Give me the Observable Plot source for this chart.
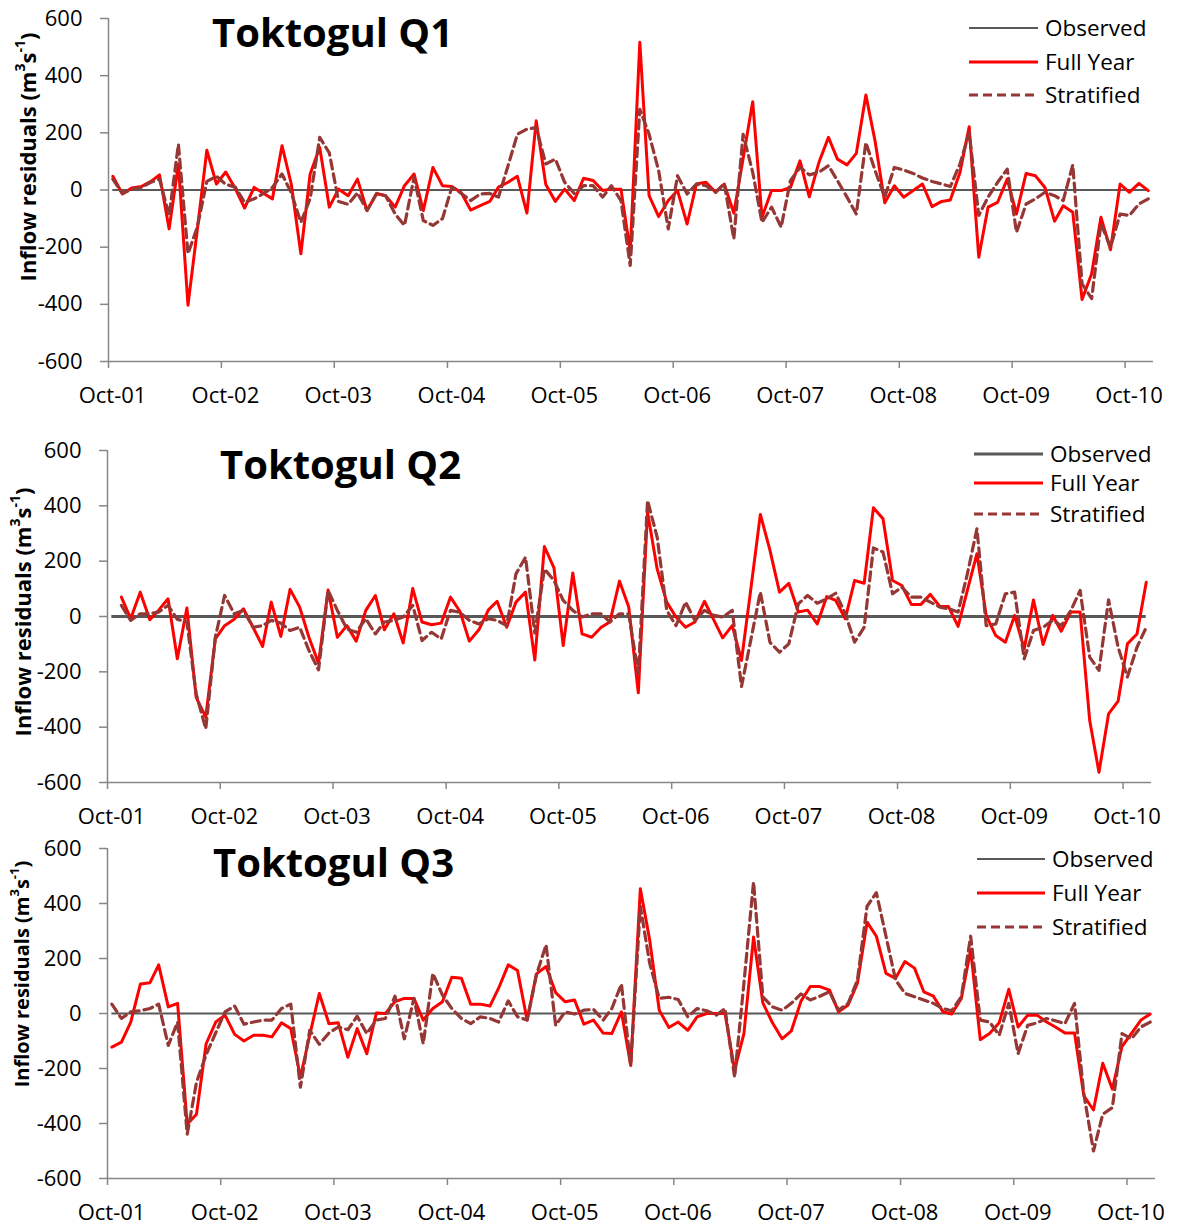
<!DOCTYPE html>
<html>
<head>
<meta charset="utf-8">
<script src="https://cdn.jsdelivr.net/npm/d3@7"></script>
<script src="https://cdn.jsdelivr.net/npm/@observablehq/plot@0.6"></script>
<style>
  body { margin: 0; background: #fff; font-family: "Open Sans", sans-serif; }
  .panel { position: relative; width: 1179px; }
  .panel svg { display: block; }
</style>
</head>
<body>
<div id="chart"></div>
<script>
// Monthly inflow residuals (m3/s), Toktogul reservoir, water years 2001/02 to 2010.
// Month index 0 = Oct 2001.
const yTicks = [-600, -400, -200, 0, 200, 400, 600];
const tickYears = [2001, 2002, 2003, 2004, 2005, 2006, 2007, 2008, 2009, 2010];
const seriesNames = ["Observed", "Full Year", "Stratified"];

// Q1: Oct 2001 - Dec 2010
const q1Start = 0;
const q1Full = [48, -14, 7, 12, 30, 53, -136, 90, -403, -140, 139, 21, 63, 5, -63, 9, -12, -31, 155, 21,
  -223, 56, 149, -60, 3, -20, 38, -72, -12, -20, -60, 15, 56, -72, 79, 15, 12, -10, -70, -55,
  -40, 10, 27, 48, -81, 242, 19, -40, 3, -37, 41, 33, -2, 3, 3, -215, 517, -20, -93, -37,
  -2, -119, 21, 27, -8, 21, -81, 110, 309, -95, -2, -2, 9, 102, -24, 96, 184, 108, 88, 128,
  332, 170, -45, 15, -25, -2, 21, -58, -40, -35, 60, 221, -235, -60, -43, 38, -84, 58, 50, 9,
  -109, -55, -78, -383, -293, -95, -209, 21, -8, 23, -2];
const q1Strat = [38, -12, 3, 9, 27, 38, -90, 160, -223, -130, 30, 48, 20, 10, -43, -31, -12, 9, 56, -10,
  -113, -30, 184, 130, -40, -50, -10, -72, -12, -20, -84, -124, 44, -107, -124, -100, 9, -12, -37, -14,
  -12, -25, 85, 195, 213, 218, 91, 108, 27, -12, 15, 15, -25, 15, -37, -264, 282, 195, 67, -136,
  50, -14, 21, 15, -8, 23, -171, 195, 62, -113, -60, -130, 33, 79, 53, 62, 85, 33, -25, -84,
  166, 67, -25, 79, 70, 58, 42, 30, 21, 12, 90, 201, -89, -25, 27, 73, -148, -49, -31, -8,
  -20, -37, 88, -328, -380, -118, -200, -84, -89, -49, -31];

// Q2: Nov 2001 - Dec 2010
const q2Start = 1;
const q2Full = [70, -8, 88, -12, 22, 64, -153, 31, -292, -364, -81, -33, -10, 28, -39, -108, 52, -72, 98,
  34, -75, -169, 96, -75, -33, -89, 22, 76, -48, 10, -96, 101, -20, -30, -24, 70, 18, -89, -48,
  24, 55, -39, 52, 88, -157, 253, 176, -105, 157, -63, -75, -39, -20, 128, 34, -276, 377, 172, 52,
  -2, -39, -20, 55, -14, -77, -33, -159, 106, 369, 240, 88, 120, 16, 23, -27, 72, 58, -8, 130,
  120, 393, 353, 130, 112, 43, 43, 80, 36, 36, -36, 94, 227, 4, -69, -93, 4, -117, 60, -101,
  4, -53, 16, 16, -376, -563, -352, -306, -99, -63, 124];
const q2Strat = [40, -14, 10, 10, 16, 40, -10, -20, -280, -406, -75, 76, 10, 22, -39, -33, -14, -24, -51,
  -39, -123, -193, 94, 22, -45, -57, -8, -63, -20, -14, -2, 40, -87, -57, -81, 22, 15, -14, -27,
  -8, -14, -33, 154, 214, -60, 172, 130, 58, 22, -2, 10, 10, -20, 10, 10, -207, 419, 287, 22,
  -33, 52, -14, 22, 4, -2, 22, -253, -80, 88, -93, -129, -99, 46, 76, 48, 64, 84, 10, -93,
  -39, 248, 233, 82, 106, 70, 70, 52, 34, 28, 16, 154, 317, -33, -27, 82, 88, -153, -51, -39,
  -14, -33, 22, 94, -147, -195, 60, -111, -219, -111, -39];

// Q3: Oct 2001 - Dec 2010
const q3Start = 0;
const q3Full = [-122, -104, -31, 107, 112, 177, 24, 37, -403, -366, -110, -31, -6, -76, -100, -79, -79, -85, -34, -55,
  -232, -79, 73, -37, -34, -159, -55, -146, 2, 0, 43, 55, 55, -24, 18, 43, 132, 128, 34, 34,
  27, 92, 177, 156, -24, 144, 171, 76, 43, 49, -39, -24, -71, -73, 6, -189, 454, 268, 12, -51,
  -31, -61, -12, 0, 0, 0, -205, -73, 278, 39, -34, -92, -63, 45, 98, 98, 85, 6, 31, 110,
  332, 281, 146, 128, 189, 165, 79, 63, 6, -2, 55, 232, -95, -73, -34, 88, -49, -6, -6, -31,
  -51, -71, -71, -299, -351, -181, -275, -120, -73, -24, -2];
const q3Strat = [34, -18, 6, 10, 18, 34, -116, -31, -439, -250, -150, -70, 6, 27, -39, -31, -24, -24, 18, 34,
  -268, -61, -112, -71, -49, -59, -10, -73, -24, -18, 63, -92, 55, -110, 146, 67, 18, -18, -37, -12,
  -18, -31, 46, -12, -24, 140, 250, -43, 6, -2, 12, 15, -24, 18, 107, -189, 390, 183, 55, 59,
  51, -12, 18, 10, -6, 18, -232, 110, 478, 61, 24, 12, 37, 71, 49, 63, 79, 12, 37, 122,
  390, 439, 281, 122, 73, 61, 49, 37, 18, 10, 61, 281, -24, -31, -79, 37, -146, -43, -34, -18,
  -27, -37, 37, -293, -500, -366, -342, -73, -92, -49, -31];

const nMonths = 111;
const monthDate = i => new Date(Date.UTC(2001, 9 + i, 15));
const xDomain = [new Date(Date.UTC(2001, 9, 1)), new Date(Date.UTC(2011, 0, 1))];
const xTicks = tickYears.map(y => new Date(Date.UTC(y, 9, 1)));
const fmtX = d3.utcFormat("%b-%y");

const AXIS = "#868686";
const OBS = "#595959";
const FULL = "#ff0000";
const STRAT = "#953735";
const DASH = "9,5";

const panels = [
  {title: "Toktogul Q1", start: q1Start, full: q1Full, strat: q1Strat,
   height: 410, mt: 18, mb: 49, ml: 108, mr: 26, obsW: 2,
   titleX: 212, titleY: 47, labX: 27, labY: 157, labSize: 22,
   lx1: 969, lx2: 1038, tx: 1045, rows: [28, 62, 95]},
  {title: "Toktogul Q2", start: q2Start, full: q2Full, strat: q2Strat,
   height: 420, mt: 40, mb: 48, ml: 107, mr: 28, obsW: 3,
   titleX: 220, titleY: 69, labX: 22, labY: 202, labSize: 22,
   lx1: 974, lx2: 1043, tx: 1050, rows: [44, 73, 104]},
  {title: "Toktogul Q3", start: q3Start, full: q3Full, strat: q3Strat,
   height: 397, mt: 18, mb: 49, ml: 107, mr: 24, obsW: 2,
   titleX: 213, titleY: 47, labX: 21, labY: 144, labSize: 20,
   lx1: 977, lx2: 1045, tx: 1052, rows: [29, 63, 97]}
];

const root = document.getElementById("chart");

for (const p of panels) {
  const full = p.full.map((v, i) => ({date: monthDate(p.start + i), value: v}));
  const strat = p.strat.map((v, i) => ({date: monthDate(p.start + i), value: v}));

  const chart = Plot.plot({
    width: 1179,
    height: p.height,
    marginTop: p.mt,
    marginBottom: p.mb,
    marginLeft: p.ml,
    marginRight: p.mr,
    style: {fontFamily: '"Open Sans", sans-serif', fontSize: "22px", color: "#000", background: "#fff", overflow: "visible"},
    x: {type: "utc", domain: xDomain},
    y: {domain: [-600, 600]},
    marks: [
      Plot.ruleX([xDomain[0]], {stroke: AXIS, strokeWidth: 1.5}),
      Plot.ruleY([-600], {stroke: AXIS, strokeWidth: 1.5}),
      Plot.axisY({ticks: yTicks, tickSize: 8, tickPadding: 18, tickFormat: d => String(d),
        stroke: AXIS, strokeWidth: 1.5, fill: "#000", fontSize: 22, label: null}),
      Plot.axisX({ticks: xTicks, tickSize: 7, tickFormat: () => "",
        stroke: AXIS, strokeWidth: 1.5, label: null}),
      Plot.axisX({ticks: xTicks, tickSize: 0, tickPadding: 26, tickFormat: fmtX,
        fill: "#000", fontSize: 22, dx: 4, label: null}),
      // observed residuals are zero by definition
      Plot.ruleY([0], {x1: monthDate(0), x2: monthDate(nMonths - 1), stroke: OBS, strokeWidth: p.obsW}),
      Plot.line(full, {x: "date", y: "value", stroke: FULL, strokeWidth: 3, strokeLinejoin: "round"}),
      Plot.line(strat, {x: "date", y: "value", stroke: STRAT, strokeWidth: 3.2,
        strokeDasharray: DASH, strokeLinejoin: "round"})
    ]
  });

  const wrap = document.createElement("div");
  wrap.className = "panel";
  wrap.style.height = p.height + "px";
  wrap.appendChild(chart);

  // title, axis label and legend drawn over the plot
  const svg = d3.create("svg")
    .attr("width", 1179).attr("height", p.height)
    .style("position", "absolute").style("left", "0").style("top", "0")
    .style("pointer-events", "none")
    .style("font-family", '"Open Sans", sans-serif');

  svg.append("text")
    .attr("x", p.titleX).attr("y", p.titleY)
    .attr("font-size", 40).attr("font-weight", "bold").attr("fill", "#000")
    .text(p.title);

  const sup = Math.round(p.labSize * 0.65);
  const shift = Math.round(p.labSize * 0.35);
  const lab = svg.append("text")
    .attr("transform", `translate(${p.labX},${p.labY}) rotate(-90)`)
    .attr("text-anchor", "middle").attr("dominant-baseline", "central")
    .attr("font-size", p.labSize).attr("font-weight", "bold").attr("fill", "#000");
  lab.append("tspan").text("Inflow residuals (m");
  lab.append("tspan").attr("dy", -shift).attr("font-size", sup).text("3");
  lab.append("tspan").attr("dy", shift).text("s");
  lab.append("tspan").attr("dy", -shift).attr("font-size", sup).text("-1");
  lab.append("tspan").attr("dy", shift).text(")");

  const styles = [
    {stroke: OBS, width: p.obsW, dash: null},
    {stroke: FULL, width: 3, dash: null},
    {stroke: STRAT, width: 3.2, dash: DASH}
  ];
  seriesNames.forEach((name, i) => {
    const y = p.rows[i];
    const ln = svg.append("line")
      .attr("x1", p.lx1).attr("x2", p.lx2).attr("y1", y).attr("y2", y)
      .attr("stroke", styles[i].stroke).attr("stroke-width", styles[i].width);
    if (styles[i].dash) ln.attr("stroke-dasharray", styles[i].dash);
    svg.append("text")
      .attr("x", p.tx).attr("y", y + 8)
      .attr("font-size", 22.5).attr("fill", "#000")
      .text(name);
  });

  wrap.appendChild(svg.node());
  root.appendChild(wrap);
}
</script>
</body>
</html>
